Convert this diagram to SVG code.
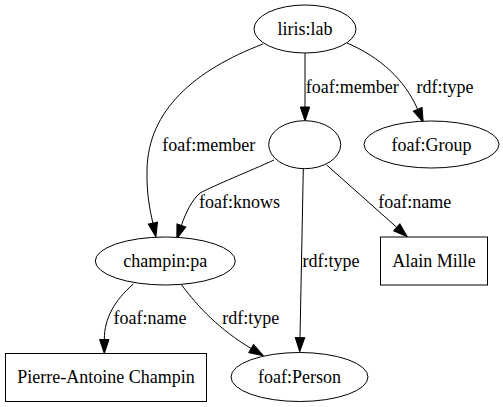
<svg xmlns="http://www.w3.org/2000/svg" width="503" height="407" viewBox="0 0 503 407">
<style>
.n{fill:#fff;stroke:#000;stroke-width:1}
.e{fill:none;stroke:#000;stroke-width:1}
text{font-family:'Liberation Serif','DejaVu Serif',serif;font-size:18px;fill:#000;text-anchor:middle}
</style>
<defs>
<marker id="ah" markerWidth="14" markerHeight="10" refX="0" refY="5" orient="auto" markerUnits="userSpaceOnUse" overflow="visible">
<path d="M0,0.3 L14,5 L0,9.7 z" fill="#000" stroke="#000" stroke-width="1"/>
</marker>
</defs>
<rect width="503" height="407" fill="#fff"/>
<g id="edges">
<path class="e" d="M305,53 L305,107" marker-end="url(#ah)"/>
<text x="352.3" y="93">foaf:member</text>
<path class="e" d="M347,43 C380,57 405,80 417.7,109.4" marker-end="url(#ah)"/>
<text x="445" y="93">rdf:type</text>
<path class="e" d="M263,44 C195,70 148,110 147,170 C146.5,195 150,210 152.9,223.2" marker-end="url(#ah)"/>
<text x="208.8" y="151">foaf:member</text>
<path class="e" d="M274,160 C250,171 215,185 200,193 C192,200 186,212 181.4,225.4" marker-end="url(#ah)"/>
<text x="239.5" y="208">foaf:knows</text>
<path class="e" d="M326.7,165 L396.8,227.4" marker-end="url(#ah)"/>
<text x="414.8" y="208">foaf:name</text>
<path class="e" d="M303.3,169 L300,337.7" marker-end="url(#ah)"/>
<text x="331" y="267">rdf:type</text>
<path class="e" d="M133.3,284 C115,300 104.3,318 104.3,339.5" marker-end="url(#ah)"/>
<text x="150" y="324">foaf:name</text>
<path class="e" d="M181.7,285 C198,307 220,330 251.2,348.5" marker-end="url(#ah)"/>
<text x="250.8" y="324">rdf:type</text>
</g>
<g id="liris_lab"><ellipse class="n" cx="305" cy="29" rx="51" ry="24"/><text x="305" y="35">liris:lab</text></g>
<g id="blank"><ellipse class="n" cx="304.7" cy="144.7" rx="36" ry="24"/></g>
<g id="foaf_Group"><ellipse class="n" cx="431.5" cy="144.5" rx="67.5" ry="23.5"/><text x="431.5" y="150.5">foaf:Group</text></g>
<g id="champin_pa"><ellipse class="n" cx="165.3" cy="261" rx="70" ry="24"/><text x="165.3" y="267">champin:pa</text></g>
<g id="alain_mille"><rect class="n" x="380.5" y="237" width="107" height="48"/><text x="434" y="267">Alain Mille</text></g>
<g id="pierre_antoine"><rect class="n" x="5.5" y="353.5" width="201" height="48"/><text x="106" y="383">Pierre-Antoine Champin</text></g>
<g id="foaf_Person"><ellipse class="n" cx="299.5" cy="377" rx="68.5" ry="24.5"/><text x="299.5" y="383">foaf:Person</text></g>
</svg>
